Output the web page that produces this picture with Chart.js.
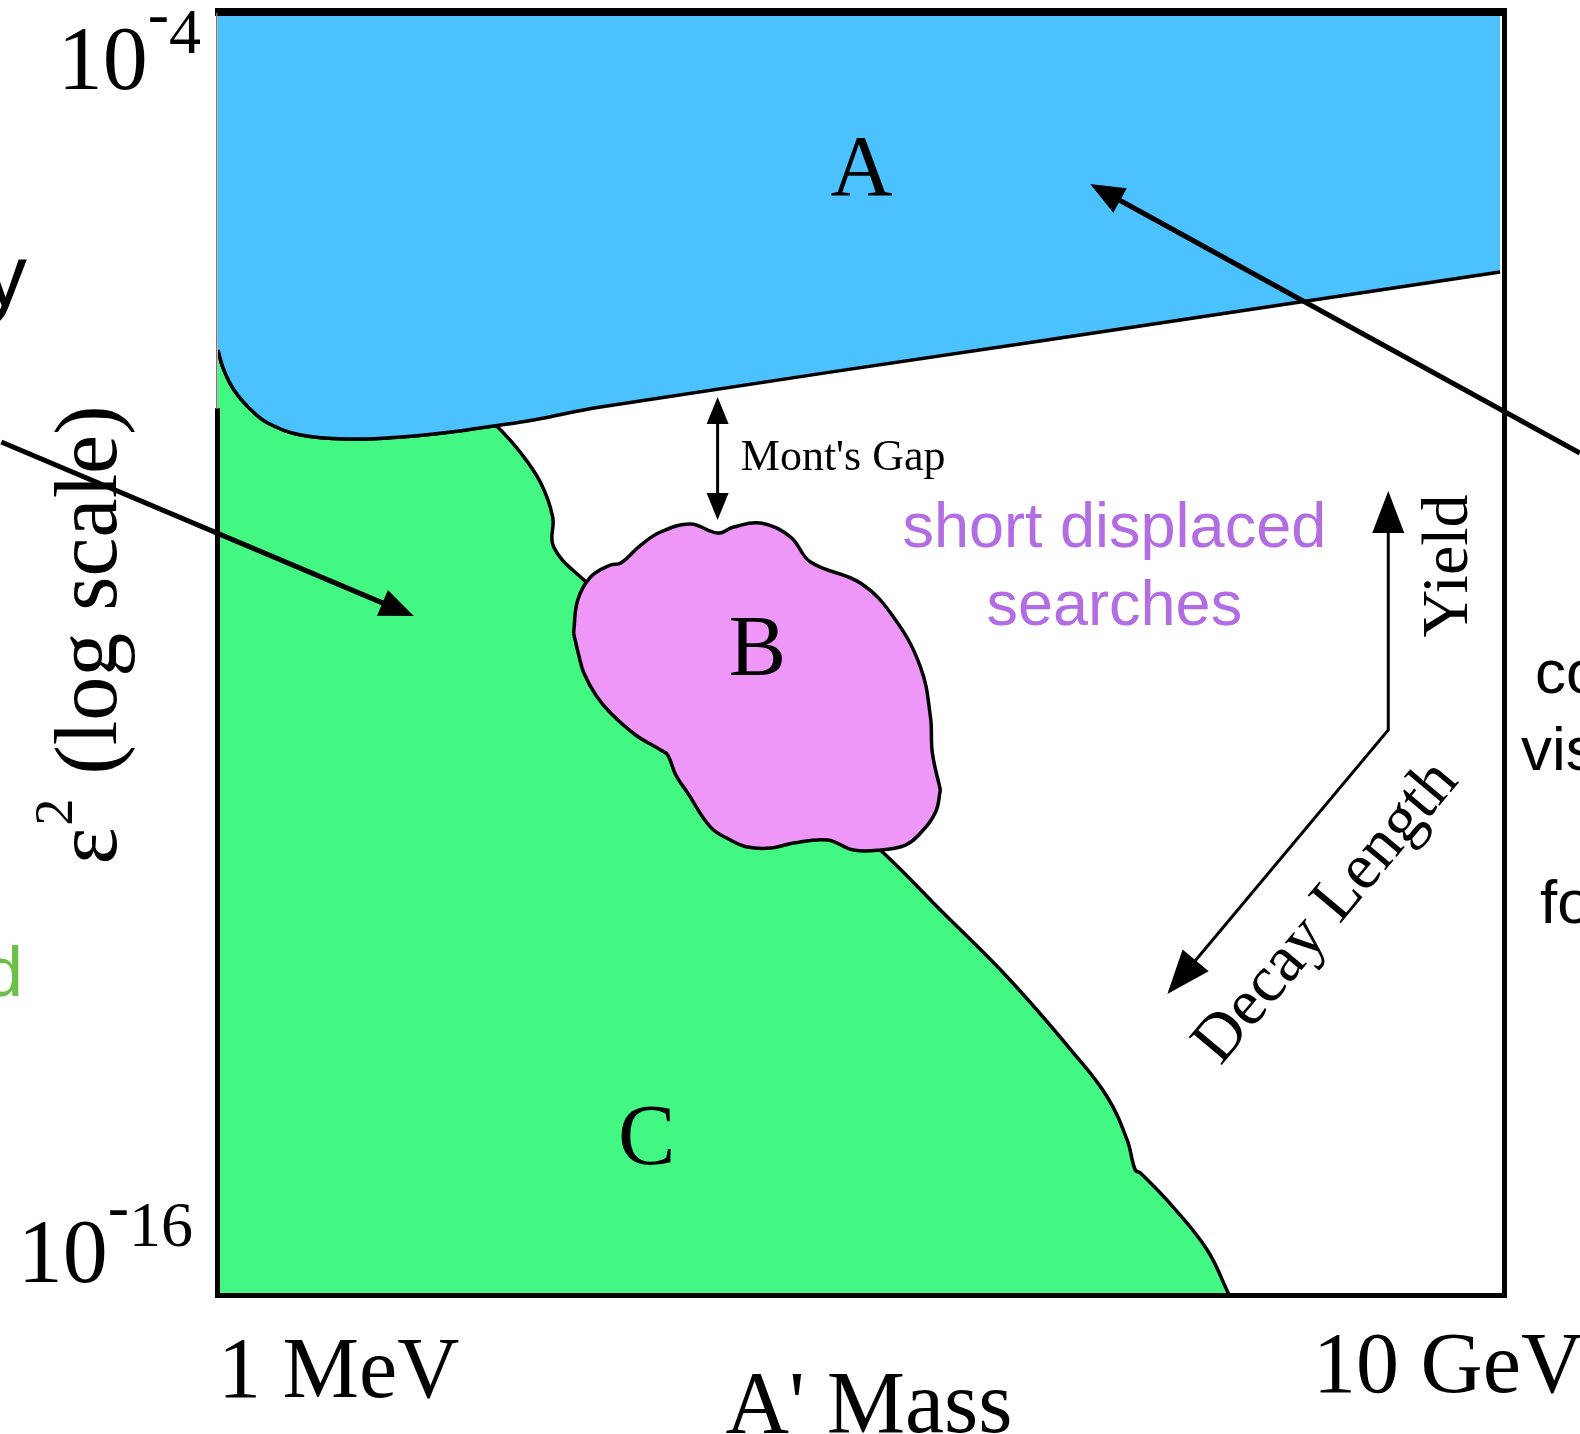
<!DOCTYPE html>
<html>
<head>
<meta charset="utf-8">
<title>A' mass vs eps^2 sketch</title>
<script src="https://cdn.jsdelivr.net/npm/chart.js@4.4.1/dist/chart.umd.min.js"></script>
<style>
  html, body { margin: 0; padding: 0; background: #fff; overflow: hidden; }
  #chart { display: block; }
</style>
</head>
<body>
<canvas id="chart" width="1580" height="1434"></canvas>
<script>
// x = log10(A' mass / MeV), y = log10(eps^2)
const xRange = [0, 4];
const yRange = [-16, -4];
const xTickLabels = ['1 MeV', '10 GeV'];
const yTickExponents = [-4, -16];

// region A: lower edge of the large-coupling band (filled up to the top)
const aX = [0, 0.016, 0.050, 0.103, 0.155, 0.258, 0.413, 0.569, 0.724, 0.858, 0.982, 1.190, 2.589, 3.988];
const aY = [-7.155, -7.323, -7.529, -7.716, -7.838, -7.950, -7.988, -7.969, -7.922, -7.866, -7.810, -7.688, -7.056, -6.424];

// region C: upper edge of the small-coupling region (filled down to the bottom)
const cX = [0, 0.016, 0.050, 0.103, 0.155, 0.258, 0.413, 0.569, 0.724, 0.858, 0.870, 0.942, 1.004, 1.041, 1.044, 1.138,
            1.594, 2.070, 2.247, 2.455, 2.661, 2.766, 2.828, 2.853, 2.869, 2.971, 3.077, 3.145];
const cY = [-7.155, -7.323, -7.529, -7.716, -7.838, -7.950, -7.988, -7.969, -7.922, -7.866, -7.875, -8.119, -8.400, -8.718, -8.999, -9.308,
            -10.581, -11.863, -12.397, -13.024, -13.735, -14.147, -14.550, -14.830, -14.858, -15.177, -15.579, -16];

// region B: the blob, upper and lower outline
const bTopX = [1.106, 1.119, 1.159, 1.221, 1.253, 1.315, 1.377, 1.470, 1.554, 1.604, 1.688, 1.781, 1.843, 1.998, 2.101, 2.185, 2.216, 2.222, 2.247];
const bTopY = [-9.804, -9.495, -9.279, -9.167, -9.148, -8.980, -8.858, -8.783, -8.868, -8.811, -8.774, -8.905, -9.139, -9.336, -9.654, -10.122, -10.590, -10.927, -11.273];
const bBotX = [1.106, 1.122, 1.138, 1.175, 1.221, 1.299, 1.377, 1.399, 1.424, 1.461, 1.532, 1.594, 1.647, 1.719, 1.790, 1.896, 1.977, 2.061, 2.138, 2.185, 2.232, 2.247];
const bBotY = [-9.804, -10.010, -10.178, -10.384, -10.553, -10.758, -10.899, -10.946, -11.133, -11.301, -11.620, -11.741, -11.807, -11.816, -11.769, -11.741, -11.835, -11.835, -11.788, -11.676, -11.479, -11.273];

// labels and annotations (data coordinates)
const regionNames = ['A', 'B', 'C'];
const regionLabelX = [2.002, 1.678, 1.333];
const regionLabelY = [-5.704, -10.197, -14.774];

const gapX = 1.554, gapTop = -7.595, gapBottom = -8.746;
const gapLabel = "Mont's Gap", gapLabelX = 1.626, gapLabelY = -8.278;

const searchLines = ['short displaced', 'searches'];
const searchX = 2.788, searchY = [-8.999, -9.729];

const trendCorner = [3.640, -10.712];
const yieldTip = [3.640, -8.474];
const decayTip = [2.953, -13.183];
const yieldLabelPos = [3.885, -9.176];
const decayLabelPos = [3.490, -12.528];

// pointers from the slide text around the figure
const pointerFromX = [-0.674, 4.236];
const pointerFromY = [-8.016, -8.119];
const pointerToX = [0.609, 2.713];
const pointerToY = [-9.645, -5.601];

const blue = '#4bc1fe';
const green = '#43f783';
const pink = '#ef97f9';
const purple = '#b36de3';
const serif = '"Liberation Serif", "Times New Roman", serif';
const sans = '"Liberation Sans", Arial, sans-serif';

const pts = (xs, ys) => xs.map((x, i) => ({x: x, y: ys[i]}));

function head(ctx, x, y, a, len, half) {
	const c = Math.cos(a), s = Math.sin(a);
	ctx.beginPath();
	ctx.moveTo(x, y);
	ctx.lineTo(x - c * len - s * half, y - s * len + c * half);
	ctx.lineTo(x - c * len + s * half, y - s * len - c * half);
	ctx.closePath();
	ctx.fill();
}

function arrow(ctx, x0, y0, x1, y1, lw, len, half) {
	const a = Math.atan2(y1 - y0, x1 - x0);
	ctx.lineWidth = lw;
	ctx.beginPath();
	ctx.moveTo(x0, y0);
	ctx.lineTo(x1 - Math.cos(a) * len * 0.7, y1 - Math.sin(a) * len * 0.7);
	ctx.stroke();
	head(ctx, x1, y1, a, len, half);
}

// 10^n with the small raised exponent
function power(ctx, exp, rightX, baseline) {
	const digits = String(Math.abs(exp));
	ctx.font = '64px ' + serif;
	const dW = ctx.measureText(digits).width;
	const hW = ctx.measureText('-').width;
	ctx.font = '90px ' + serif;
	const bW = ctx.measureText('10').width;
	const x0 = rightX - dW - hW - bW;
	ctx.fillText('10', x0, baseline);
	ctx.font = '64px ' + serif;
	ctx.fillText('-', x0 + bW, baseline - 54);
	ctx.fillText(digits, x0 + bW + hW, baseline - 36);
}

const decorations = {
	id: 'decorations',
	afterDraw(chart) {
		const ctx = chart.ctx;
		const {left, right, top, bottom} = chart.chartArea;
		const px = v => chart.scales.x.getPixelForValue(v);
		const py = v => chart.scales.y.getPixelForValue(v);
		ctx.save();
		ctx.fillStyle = '#000';
		ctx.strokeStyle = '#000';

		// frame
		ctx.fillRect(left - 3, top - 5, right - left + 6, 8);
		ctx.fillRect(right - 2, top - 5, 5, bottom - top + 8);
		ctx.fillRect(left - 3, bottom - 2, right - left + 6, 5);
		ctx.fillRect(left - 3, py(-7.7), 5, bottom - py(-7.7) + 3);
		ctx.fillStyle = '#777';
		ctx.fillRect(left - 2, top, 1.5, py(-7.7) - top);
		ctx.fillStyle = '#000';

		// ticks
		ctx.textBaseline = 'alphabetic';
		ctx.font = '86px ' + serif;
		ctx.textAlign = 'left';
		ctx.fillText(xTickLabels[0], px(xRange[0]), bottom + 102);
		ctx.textAlign = 'right';
		ctx.fillText(xTickLabels[1], px(xRange[1]) + 79, bottom + 97);
		ctx.textAlign = 'left';
		power(ctx, yTickExponents[0], 201, py(yRange[1]) + 76);
		power(ctx, yTickExponents[1], 193, py(yRange[0]) - 13);

		// axis titles
		ctx.font = '88px ' + serif;
		ctx.textAlign = 'center';
		ctx.fillText("A' Mass", 869, 1432);
		ctx.save();
		ctx.translate(116, 637);
		ctx.rotate(-Math.PI / 2);
		ctx.textAlign = 'left';
		ctx.font = '88px ' + serif;
		const w1 = ctx.measureText('\u03b5').width;
		const w3 = ctx.measureText(' (log scale)').width;
		ctx.font = '54px ' + serif;
		const w2 = ctx.measureText('2').width;
		let sx = -(w1 + w2 + w3) / 2;
		ctx.font = '88px ' + serif;
		ctx.fillText('\u03b5', sx, 0);
		ctx.font = '54px ' + serif;
		ctx.fillText('2', sx + w1 + 2, -44);
		ctx.font = '88px ' + serif;
		ctx.fillText(' (log scale)', sx + w1 + w2 + 4, 0);
		ctx.restore();

		// region letters
		ctx.font = '86px ' + serif;
		ctx.textAlign = 'center';
		regionNames.forEach((n, i) => ctx.fillText(n, px(regionLabelX[i]), py(regionLabelY[i])));

		// Mont's gap
		ctx.lineWidth = 3;
		ctx.beginPath();
		ctx.moveTo(px(gapX), py(gapTop) + 18);
		ctx.lineTo(px(gapX), py(gapBottom) - 18);
		ctx.stroke();
		head(ctx, px(gapX), py(gapTop), -Math.PI / 2, 27, 11);
		head(ctx, px(gapX), py(gapBottom), Math.PI / 2, 27, 11);
		ctx.font = '44px ' + serif;
		ctx.textAlign = 'left';
		ctx.fillText(gapLabel, px(gapLabelX), py(gapLabelY));

		// short displaced searches
		ctx.fillStyle = purple;
		ctx.font = '63px ' + sans;
		ctx.textAlign = 'center';
		searchLines.forEach((t, i) => ctx.fillText(t, px(searchX), py(searchY[i])));
		ctx.fillStyle = '#000';

		// yield / decay length
		const cx = px(trendCorner[0]), cy = py(trendCorner[1]);
		const yx = px(yieldTip[0]), yy = py(yieldTip[1]);
		const dx = px(decayTip[0]), dy = py(decayTip[1]);
		const da = Math.atan2(dy - cy, dx - cx);
		ctx.lineWidth = 3;
		ctx.beginPath();
		ctx.moveTo(yx, yy + 30);
		ctx.lineTo(cx, cy);
		ctx.lineTo(dx - Math.cos(da) * 30, dy - Math.sin(da) * 30);
		ctx.stroke();
		head(ctx, yx, yy, -Math.PI / 2, 42, 16);
		head(ctx, dx, dy, da, 44, 17);
		ctx.font = '66px ' + serif;
		ctx.textAlign = 'center';
		ctx.save();
		ctx.translate(px(yieldLabelPos[0]), py(yieldLabelPos[1]));
		ctx.rotate(-Math.PI / 2);
		ctx.fillText('Yield', 0, 0);
		ctx.restore();
		ctx.save();
		ctx.translate(px(decayLabelPos[0]), py(decayLabelPos[1]));
		ctx.rotate(-50 * Math.PI / 180);
		ctx.fillText('Decay Length', 0, 0);
		ctx.restore();

		// long pointers
		ctx.lineCap = 'butt';
		pointerFromX.forEach((x, i) => {
			arrow(ctx, px(x), py(pointerFromY[i]), px(pointerToX[i]), py(pointerToY[i]), 5, 34, 14);
		});

		// cut-off slide text around the figure
		ctx.textAlign = 'left';
		ctx.font = '88px ' + sans;
		ctx.fillText('y', -17, 306);
		ctx.fillStyle = '#6cc04a';
		ctx.font = '70px ' + sans;
		ctx.fillText('d', -16, 996);
		ctx.fillStyle = '#000';
		ctx.font = '62px ' + sans;
		ctx.fillText('co', 1535, 693);
		ctx.fillText('vis', 1521, 770);
		ctx.fillText('fo', 1540, 923);
		ctx.restore();
	}
};

const outline = {borderColor: '#000', borderWidth: 3.5, pointRadius: 0, pointHoverRadius: 0, tension: 0.4};

new Chart(document.getElementById('chart'), {
	type: 'line',
	data: {
		datasets: [
			Object.assign({label: 'B upper', data: pts(bTopX, bTopY), fill: false, order: 1}, outline),
			Object.assign({label: 'B', data: pts(bBotX, bBotY), fill: '-1', backgroundColor: pink, order: 2}, outline),
			Object.assign({label: 'A', data: pts(aX, aY), fill: 'end', backgroundColor: blue, order: 3}, outline),
			Object.assign({label: 'C', data: pts(cX, cY), fill: 'start', backgroundColor: green, order: 4}, outline)
		]
	},
	options: {
		responsive: false,
		animation: false,
		events: [],
		layout: {padding: {left: 218, right: 76, top: 13, bottom: 139}},
		scales: {
			x: {type: 'linear', min: xRange[0], max: xRange[1], display: false},
			y: {type: 'linear', min: yRange[0], max: yRange[1], display: false}
		},
		plugins: {
			legend: {display: false},
			tooltip: {enabled: false}
		}
	},
	plugins: [decorations]
});
</script>
</body>
</html>
